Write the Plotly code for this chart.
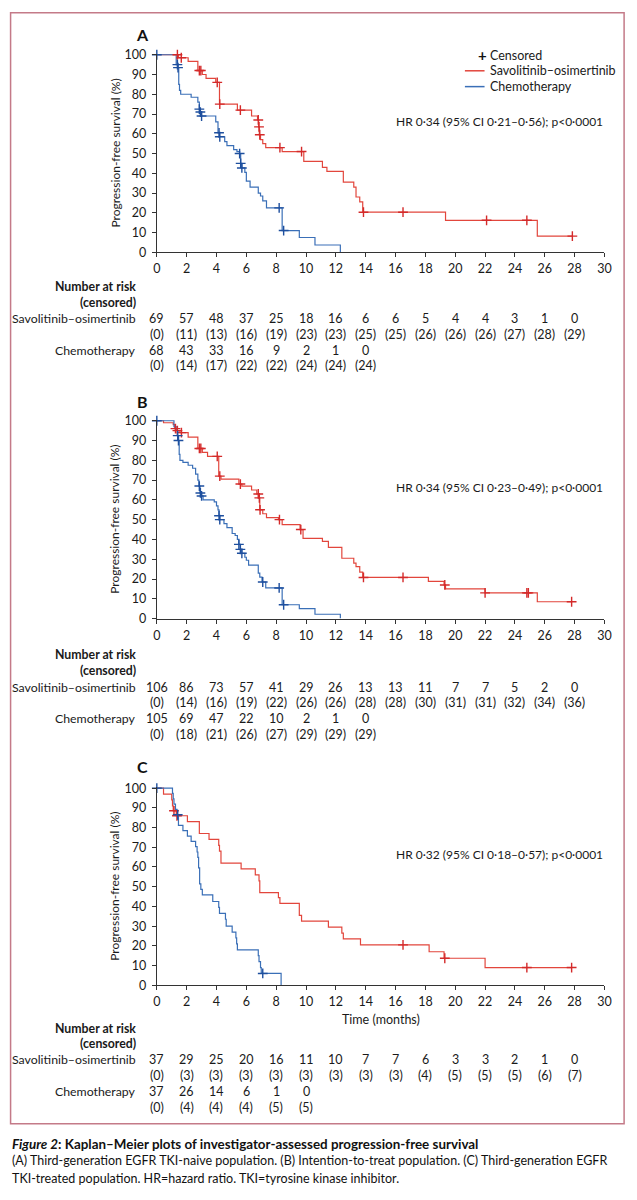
import plotly.graph_objects as go

W, H = 637, 1200
FONT = "Lato"
RED, RED_C = "#e2463c", "#d42a2a"
BLUE, BLUE_C = "#3a6fb7", "#1e4f9e"
TXT = "#1a1a1a"


def fx(px):
    return px / W


def fy(py):
    return 1 - py / H


# ---------------- Panel A: third-generation EGFR TKI-naive ----------------
a_savo_t = [0, 1.45, 2.1, 2.75, 3.05, 3.3, 3.95, 4.2, 5.4, 6.35, 6.75, 6.82, 6.87, 6.95, 7.1, 7.3,
            8.4, 9.85, 11.1, 11.4, 12.5, 13.2, 13.35, 13.6, 13.8, 19.35, 25.5, 27.85]
a_savo_s = [100, 98.5, 96.7, 92, 90, 88, 86, 75, 72, 69, 67, 63.5, 59.5, 57, 55, 53,
            51, 46, 43, 41, 35.5, 33, 28, 25.5, 20.3, 16.2, 8.2, 8.2]
a_savo_ct = [1.38, 1.64, 2.85, 2.95, 4.05, 4.22, 5.6, 6.8, 6.85, 6.9, 8.25, 9.7, 13.85, 16.5, 22.1, 24.8, 27.85]
a_savo_cs = [100, 98.5, 92, 92, 86, 75, 72, 67, 63.5, 59.5, 53, 51, 20.3, 20.3, 16.2, 16.2, 8.2]

a_chemo_t = [0, 1.3, 1.42, 1.47, 1.52, 1.6, 2.3, 2.75, 2.85, 2.92, 3.0, 3.95, 4.1, 4.2, 4.55, 4.7,
             5.15, 5.37, 5.55, 5.62, 5.7, 5.9, 6.0, 6.25, 6.8, 6.95, 7.1, 7.35, 8.4, 9.55, 10.6, 12.3]
a_chemo_s = [100, 95, 93.5, 85, 82, 80, 78.5, 76, 72.5, 71, 69, 66, 60.5, 58.5, 56, 54,
             52, 51, 50, 45, 42.7, 40.5, 36, 33, 30, 28.5, 26, 22.5, 11, 7.5, 3.7, 0]
a_chemo_ct = [0, 1.38, 1.42, 2.85, 2.92, 3.0, 4.17, 4.22, 5.55, 5.62, 5.7, 8.2, 8.5]
a_chemo_cs = [100, 95, 93.5, 72.5, 71, 69, 60.5, 58.5, 50, 45, 42.7, 22.5, 11]

# ---------------- Panel B: intention-to-treat ----------------
b_savo_t = [0, 0.45, 1.1, 1.2, 1.35, 1.55, 2.1, 2.75, 3.05, 3.4, 4.15, 4.3, 5.5, 5.7, 6.35, 6.7,
            6.85, 6.9, 7.1, 7.35, 8.15, 8.4, 9.6, 9.8, 11.1, 11.5, 12.4, 13.2, 13.35, 13.6, 13.8,
            18.2, 19.25, 19.35, 22.0, 25.5, 27.8]
b_savo_s = [100, 99, 98, 96, 95, 94, 91.7, 86, 84, 82, 72, 70.5, 68, 67, 65, 63,
            61, 55, 53, 51, 50, 47.5, 45, 40.5, 39, 36, 30.5, 28, 26.3, 23.5, 20.8,
            18.8, 17, 15, 13, 8.5, 8.5]
b_savo_ct = [1.25, 1.38, 1.65, 2.85, 2.95, 4.05, 4.22, 5.6, 6.8, 6.87, 6.92, 8.22, 9.65, 13.85,
             16.5, 19.3, 22.0, 24.8, 24.9, 27.8]
b_savo_cs = [96, 95, 94, 86, 86, 82, 72, 68, 63, 61, 55, 50, 45, 20.8,
             20.8, 17, 13, 13, 13, 8.5]

b_chemo_t = [0, 1.15, 1.3, 1.38, 1.45, 1.5, 1.55, 1.75, 2.1, 2.4, 2.6, 2.75, 2.82, 2.9, 3.0, 3.1,
             3.85, 4.0, 4.1, 4.17, 4.22, 4.5, 4.7, 5.05, 5.25, 5.4, 5.5, 5.6, 5.7, 5.9, 6.0,
             6.15, 6.8, 6.9, 7.05, 7.3, 8.4, 9.55, 10.6, 12.3]
b_chemo_s = [100, 97, 95, 92.5, 90, 83, 80, 79, 77.5, 76, 73, 70, 67, 63.5, 62, 60,
             59, 57, 55, 52, 50, 48, 46, 43, 42, 40, 37.5, 35, 33, 31, 29.5,
             27, 23, 21, 18.5, 15.5, 7, 5, 2.2, 0]
b_chemo_ct = [0, 1.4, 1.45, 2.85, 2.92, 3.0, 4.17, 4.22, 5.5, 5.6, 5.7, 7.1, 8.2, 8.5]
b_chemo_cs = [100, 92.5, 90, 67, 63.5, 62, 52, 50, 37.5, 35, 33, 18.5, 15.5, 7]

# ---------------- Panel C: third-generation EGFR TKI-treated ----------------
c_savo_t = [0, 0.45, 1.0, 1.05, 1.1, 1.3, 2.05, 2.85, 3.5, 4.15, 4.2, 4.3, 5.65, 6.6, 6.85, 6.9,
            8.15, 8.25, 9.55, 9.7, 11.5, 12.4, 12.5, 13.65, 18.25, 19.25, 22.0, 27.8]
c_savo_s = [100, 97, 94, 91, 88.5, 86, 83, 77, 74, 71, 68, 62, 59, 56, 53, 47,
            44.5, 41.5, 35.5, 32.5, 29.5, 26.5, 23.5, 20.5, 17, 13.7, 9, 9]
c_savo_ct = [1.15, 1.35, 16.5, 19.3, 24.8, 27.8]
c_savo_cs = [88.5, 86, 20.5, 13.7, 9, 9]

c_chemo_t = [0, 1.05, 1.1, 1.15, 1.25, 1.35, 1.45, 1.75, 2.05, 2.3, 2.6, 2.7, 2.75, 2.8, 2.87, 2.95,
             3.05, 3.75, 4.15, 4.2, 4.6, 4.65, 5.05, 5.3, 5.35, 5.4, 6.8, 6.85, 6.95, 7.0, 8.33]
c_chemo_s = [100, 97.3, 94.6, 91.9, 89.2, 86.5, 81.1, 78.4, 75.7, 73, 70.3, 67.6, 64.9, 59.5, 51.4, 48.6,
             45.9, 42.5, 39.5, 36.5, 33.5, 30, 27, 24, 21, 18, 15, 12, 9, 6, 0]
c_chemo_ct = [0, 1.4, 7.1]
c_chemo_cs = [100, 86.5, 6]

# ---------------- Number at risk (censored) ----------------
risk_months = [0, 2, 4, 6, 8, 10, 12, 14, 16, 18, 20, 22, 24, 26, 28]
a_savo_risk = [69, 57, 48, 37, 25, 18, 16, 6, 6, 5, 4, 4, 3, 1, 0]
a_savo_cens = [0, 11, 13, 16, 19, 23, 23, 25, 25, 26, 26, 26, 27, 28, 29]
a_chemo_risk = [68, 43, 33, 16, 9, 2, 1, 0]
a_chemo_cens = [0, 14, 17, 22, 22, 24, 24, 24]
b_savo_risk = [106, 86, 73, 57, 41, 29, 26, 13, 13, 11, 7, 7, 5, 2, 0]
b_savo_cens = [0, 14, 16, 19, 22, 26, 26, 28, 28, 30, 31, 31, 32, 34, 36]
b_chemo_risk = [105, 69, 47, 22, 10, 2, 1, 0]
b_chemo_cens = [0, 18, 21, 26, 27, 29, 29, 29]
c_savo_risk = [37, 29, 25, 20, 16, 11, 10, 7, 7, 6, 3, 3, 2, 1, 0]
c_savo_cens = [0, 3, 3, 3, 3, 3, 3, 3, 3, 4, 5, 5, 5, 6, 7]
c_chemo_risk = [37, 26, 14, 6, 1, 0]
c_chemo_cens = [0, 4, 4, 4, 5, 5]

panel_letters = ["A", "B", "C"]
hr_texts = ["HR 0·34 (95% CI 0·21–0·56); p<0·0001",
            "HR 0·34 (95% CI 0·23–0·49); p<0·0001",
            "HR 0·32 (95% CI 0·18–0·57); p<0·0001"]
arm_names = ["Savolitinib–osimertinib", "Chemotherapy"]
legend_labels = ["Censored", "Savolitinib–osimertinib", "Chemotherapy"]

# ---------------- geometry (pixels) ----------------
X_LEFT, X_RIGHT = 155.5, 611
YMAX = 100.6
panels = [
    dict(top=49.3, bottom=249, letter_y=29.3, hr_y=117,
         rows=[284, 299.5, 316, 332.3, 348.3, 363.3]),
    dict(top=419.3, bottom=619.3, letter_y=400, hr_y=487,
         rows=[656, 672, 688.5, 704.5, 720.5, 736.3]),
    dict(top=790.7, bottom=990, letter_y=769.3, hr_y=858,
         rows=[1033.3, 1049.3, 1065, 1081.3, 1097.2, 1113.3]),
]
data = [
    (a_savo_t, a_savo_s, a_savo_ct, a_savo_cs, a_chemo_t, a_chemo_s, a_chemo_ct, a_chemo_cs,
     a_savo_risk, a_savo_cens, a_chemo_risk, a_chemo_cens),
    (b_savo_t, b_savo_s, b_savo_ct, b_savo_cs, b_chemo_t, b_chemo_s, b_chemo_ct, b_chemo_cs,
     b_savo_risk, b_savo_cens, b_chemo_risk, b_chemo_cens),
    (c_savo_t, c_savo_s, c_savo_ct, c_savo_cs, c_chemo_t, c_chemo_s, c_chemo_ct, c_chemo_cs,
     c_savo_risk, c_savo_cens, c_chemo_risk, c_chemo_cens),
]

fig = go.Figure()
annotations = []
shapes = []
layout_axes = {}

for i, (p, d) in enumerate(zip(panels, data)):
    (st, ss, sct, scs, ct, cs, cct, ccs, srisk, scens, crisk, ccens) = d
    sfx = "" if i == 0 else str(i + 1)
    xa, ya = "x" + sfx, "y" + sfx
    ppu = (p["bottom"] - p["top"]) / 100.0
    top_px = p["top"] - (YMAX - 100) * ppu

    fig.add_trace(go.Scatter(x=st, y=ss, mode="lines", line=dict(color=RED, width=1.2, shape="hv"),
                             name=arm_names[0], xaxis=xa, yaxis=ya, showlegend=False, hoverinfo="skip"))
    fig.add_trace(go.Scatter(x=ct, y=cs, mode="lines", line=dict(color=BLUE, width=1.2, shape="hv"),
                             name=arm_names[1], xaxis=xa, yaxis=ya, showlegend=False, hoverinfo="skip"))
    fig.add_trace(go.Scatter(x=sct, y=scs, mode="markers", cliponaxis=False, name="Censored",
                             marker=dict(symbol="cross-thin", size=7, line=dict(color=RED_C, width=1.4)),
                             xaxis=xa, yaxis=ya, showlegend=False, hoverinfo="skip"))
    fig.add_trace(go.Scatter(x=cct, y=ccs, mode="markers", cliponaxis=False, name="Censored",
                             marker=dict(symbol="cross-thin", size=7, line=dict(color=BLUE_C, width=1.4)),
                             xaxis=xa, yaxis=ya, showlegend=False, hoverinfo="skip"))

    axis_common = dict(showline=True, linecolor="#333", linewidth=1, ticks="outside", ticklen=4,
                       tickcolor="#333", tickwidth=1, showgrid=False, zeroline=False,
                       tickfont=dict(family=FONT, size=12.5, color=TXT))
    layout_axes["xaxis" + sfx] = dict(axis_common, range=[0, 30], tickmode="array",
                                      tickvals=list(range(0, 31, 2)),
                                      domain=[fx(X_LEFT), fx(X_RIGHT)], anchor=ya,
                                      ticklabelstandoff=1)
    layout_axes["yaxis" + sfx] = dict(axis_common, range=[0, YMAX], tickmode="array",
                                      tickvals=list(range(0, 101, 10)),
                                      domain=[fy(p["bottom"]), fy(top_px)], anchor=xa,
                                      ticklabelstandoff=3)

    annotations.append(dict(text="Progression-free survival (%)", x=fx(113), y=fy((p["top"] + p["bottom"]) / 2),
                            xref="paper", yref="paper", textangle=-90, showarrow=False,
                            xanchor="center", yanchor="middle",
                            font=dict(family=FONT, size=12, color=TXT)))
    annotations.append(dict(text="<b>%s</b>" % panel_letters[i], x=fx(140.5), y=fy(p["letter_y"]),
                            xref="paper", yref="paper", showarrow=False, xanchor="center", yanchor="middle",
                            font=dict(family=FONT, size=16, color="#111")))
    annotations.append(dict(text=hr_texts[i], x=fx(612), y=fy(p["hr_y"]), xref="paper", yref="paper",
                            showarrow=False, xanchor="right", yanchor="middle",
                            font=dict(family=FONT, size=12, color=TXT)))
    r = p["rows"]
    for txt, yy, bold in [("Number at risk", r[0], True), ("(censored)", r[1], True),
                          (arm_names[0], r[2], False), (arm_names[1], r[4], False)]:
        annotations.append(dict(text=("<b>%s</b>" % txt) if bold else txt, x=fx(136.5), y=fy(yy),
                                xref="paper", yref="paper", showarrow=False, xanchor="right",
                                yanchor="middle", font=dict(family=FONT, size=12.3, color=TXT)))
    for vals, yy, paren in [(srisk, r[2], False), (scens, r[3], True),
                            (crisk, r[4], False), (ccens, r[5], True)]:
        for t, v in zip(risk_months, vals):
            annotations.append(dict(text=("(%d)" % v) if paren else str(v), x=t, xref=xa,
                                    y=fy(yy), yref="paper", showarrow=False, xanchor="center",
                                    yanchor="middle", font=dict(family=FONT, size=12.5, color=TXT)))

# legend (panel A) built from text and key marks
leg_rows = [50, 65.5, 81.5]
annotations.append(dict(text="<b>+</b>", x=fx(486.5), y=fy(leg_rows[0]), xref="paper", yref="paper",
                        showarrow=False, xanchor="center", yanchor="middle",
                        font=dict(family=FONT, size=15, color="#111")))
for lbl, yy in zip(legend_labels, leg_rows):
    annotations.append(dict(text=lbl, x=fx(493), y=fy(yy), xref="paper", yref="paper", showarrow=False,
                            xanchor="left", yanchor="middle", font=dict(family=FONT, size=12.5, color=TXT)))
for col, yy in zip([RED, BLUE], leg_rows[1:]):
    shapes.append(dict(type="line", xref="paper", yref="paper", x0=fx(469), x1=fx(489),
                       y0=fy(yy), y1=fy(yy), line=dict(color=col, width=1.5)))

annotations.append(dict(text="Time (months)", x=fx((X_LEFT + X_RIGHT) / 2), y=fy(1025), xref="paper",
                        yref="paper", showarrow=False, xanchor="center", yanchor="middle",
                        font=dict(family=FONT, size=12.5, color=TXT)))

caption = [
    ("<b><i>Figure 2</i>: Kaplan–Meier plots of investigator-assessed progression-free survival</b>", 1150.7, 13.4),
    ("(A) Third-generation EGFR TKI-naive population. (B) Intention-to-treat population. (C) Third-generation EGFR", 1167.5, 12.5),
    ("TKI-treated population. HR=hazard ratio. TKI=tyrosine kinase inhibitor.", 1185, 12.5),
]
for txt, yy, sz in caption:
    annotations.append(dict(text=txt, x=fx(6.5), y=fy(yy), xref="paper", yref="paper", showarrow=False,
                            xanchor="left", yanchor="middle", font=dict(family=FONT, size=sz, color="#111")))

shapes.append(dict(type="rect", xref="paper", yref="paper", x0=fx(6.7), x1=fx(631), y0=fy(1130), y1=fy(6.7),
                   line=dict(color="#c47a88", width=1.5), fillcolor="rgba(0,0,0,0)", layer="below"))

fig.update_layout(
    width=W, height=H, margin=dict(l=0, r=0, t=0, b=0),
    paper_bgcolor="white", plot_bgcolor="white",
    font=dict(family=FONT, size=12, color=TXT),
    showlegend=False,
    annotations=annotations,
    shapes=shapes,
    **layout_axes,
)

fig.write_html("out.html", config={"displayModeBar": False},
               post_script="document.body.style.margin='0';document.body.style.overflow='hidden';")
